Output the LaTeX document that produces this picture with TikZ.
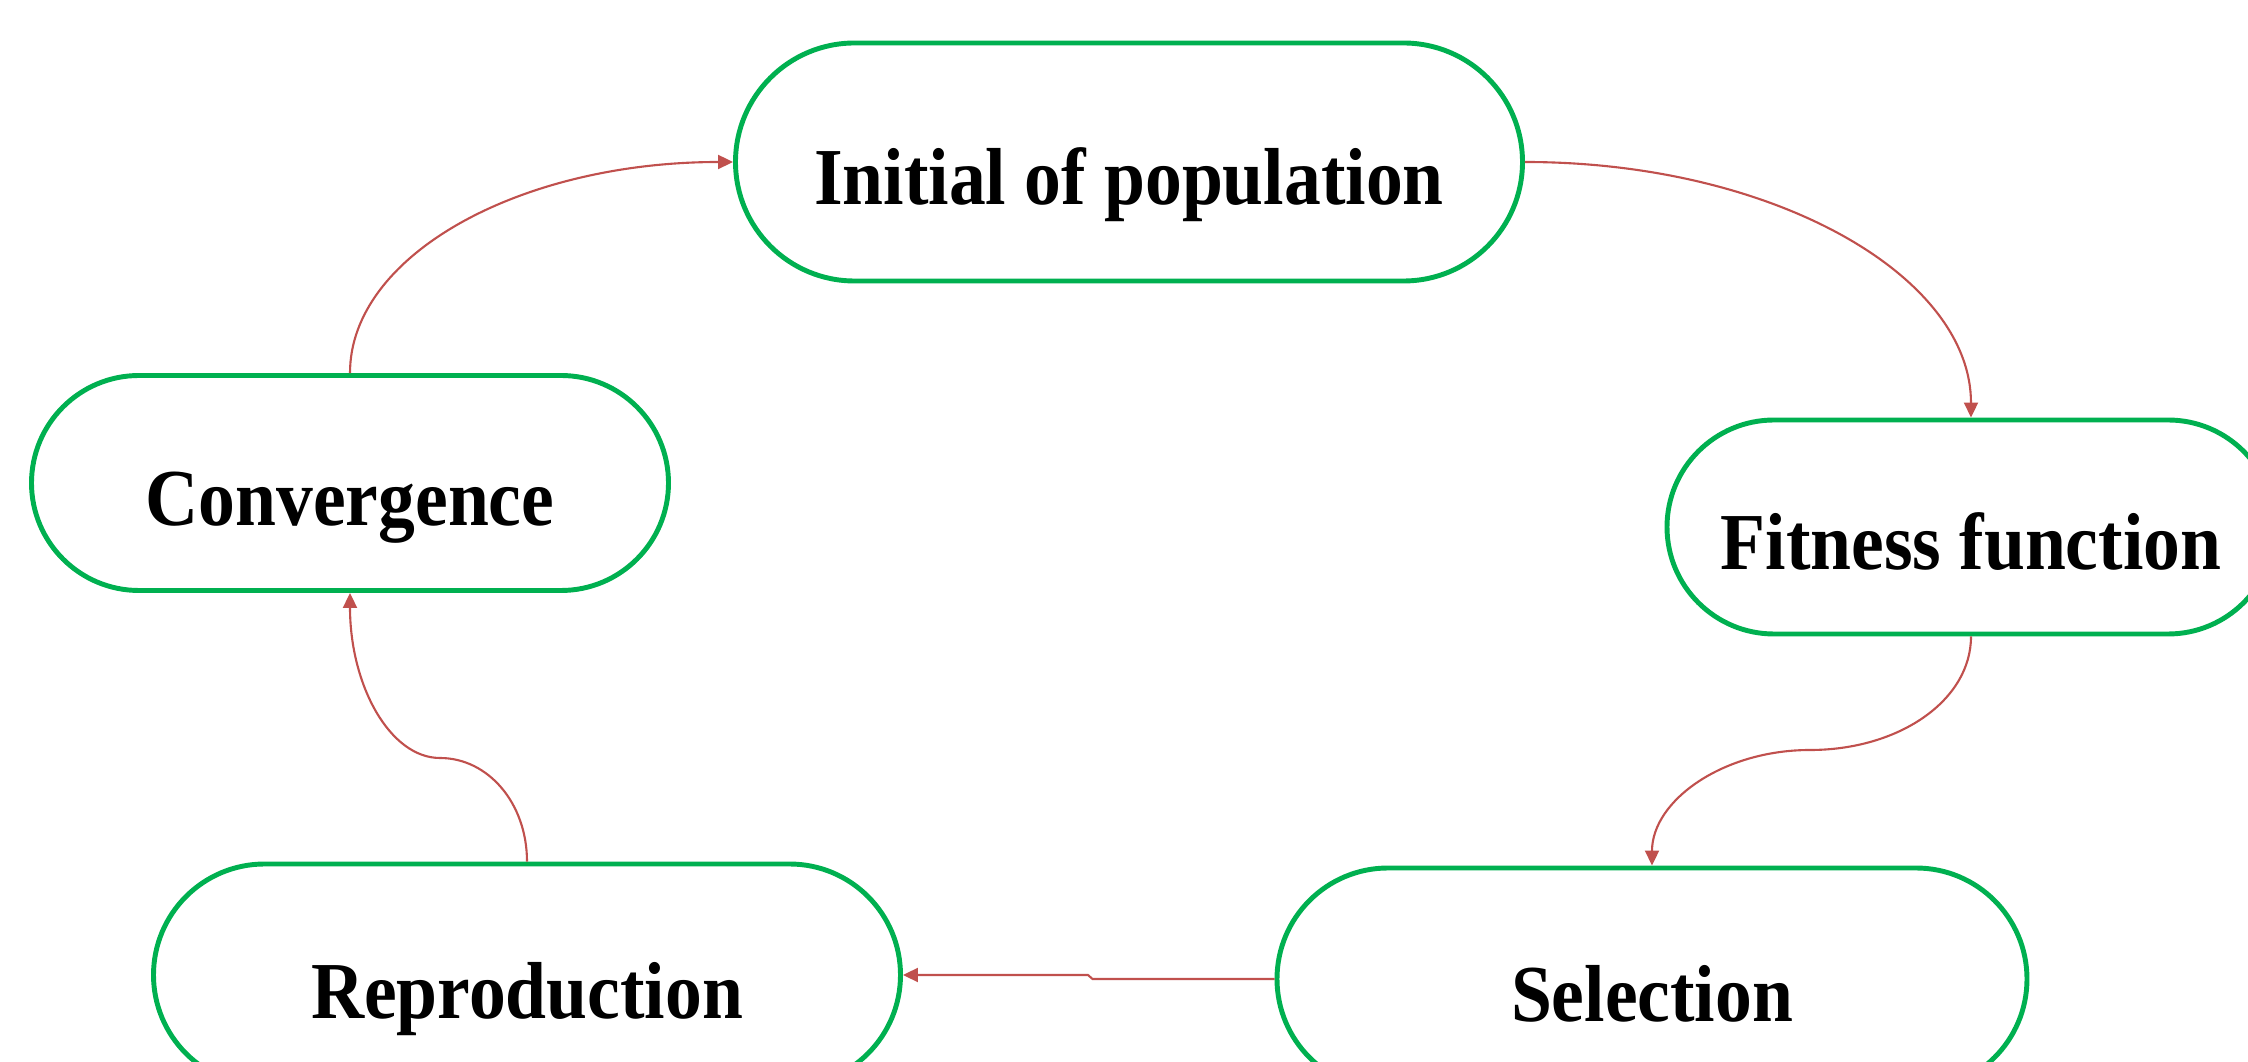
\documentclass[tikz,border=0pt]{standalone}
\usepackage{fontspec}
\setmainfont{Liberation Serif}[FakeStretch=0.91]
\usetikzlibrary{arrows.meta,shapes.misc}
\definecolor{stagegreen}{HTML}{00B050}
\definecolor{linkred}{HTML}{C0504D}

\begin{document}
\begin{tikzpicture}[
  stage/.style={rounded rectangle, draw=stagegreen, line width=1.4pt, fill=white,
                font=\fontsize{23}{27}\selectfont\bfseries, inner sep=0pt,
                text height=0.9cm, text depth=0.04cm},
  conn/.style={linkred, line width=0.6pt, -{Triangle[length=0.15cm, width=0.14cm]}}
]
  \useasboundingbox (0,0) rectangle (22.48,10.62);

  \node[stage, minimum width=7.87cm, minimum height=2.38cm] (init) at (11.29,9.00) {Initial of population};
  \node[stage, minimum width=6.37cm, minimum height=2.15cm] (conv) at (3.50,5.79) {Convergence};
  \node[stage, minimum width=6.08cm, minimum height=2.14cm] (fit) at (19.71,5.35) {Fitness function};
  \node[stage, minimum width=7.50cm, minimum height=2.22cm] (sel) at (16.52,0.83) {Selection};
  \node[stage, minimum width=7.47cm, minimum height=2.22cm] (rep) at (5.27,0.87) {Reproduction};

  \coordinate (fs) at (18.10,3.12);
  \coordinate (rc) at (4.40,3.04);

  \draw[conn] (init.east) .. controls +(2.48,0) and +(0,1.42) .. (fit.north);
  \draw[conn] (fit.south) .. controls +(0,-0.64) and +(0.89,0) .. (fs)
                          .. controls +(-0.87,0) and +(0,0.65) .. (sel.north);
  \draw[conn] (sel.west) -- ([xshift=-1.82cm]sel.west) -- ([xshift=1.85cm]rep.east) -- (rep.east);
  \draw[conn] (rep.north) .. controls +(0,0.585) and +(0.48,0) .. (rc)
                          .. controls +(-0.5,0) and +(0,-0.925) .. (conv.south);
  \draw[conn] (conv.north) .. controls +(0,1.18) and +(-2.13,0) .. (init.west);
\end{tikzpicture}
\end{document}
